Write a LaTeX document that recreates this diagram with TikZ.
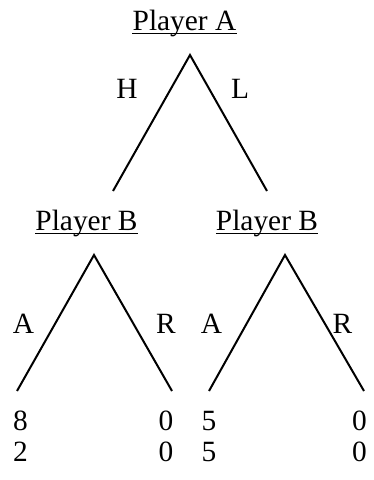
\documentclass[tikz,border=0pt]{standalone}
\usepackage{fontspec}
\setmainfont{Liberation Serif}
\begin{document}
\begin{tikzpicture}[x=1pt,y=-1pt,
  lbl/.style={inner sep=0pt,anchor=base,font=\fontsize{29.4}{33}\selectfont},
  branch/.style={line width=2pt},
  uline/.style={line width=1.8pt}]
\useasboundingbox[fill=white] (0,0) rectangle (373,480);
% player labels
\node[lbl] (pa) at (184.5,30) {Player A};
\node[lbl] (pb1) at (86.5,230) {Player B};
\node[lbl] (pb2) at (267,230) {Player B};
\foreach \n in {pa,pb1,pb2}
  \draw[uline] ([yshift=-3.5pt]\n.base west) -- ([yshift=-3.5pt]\n.base east);
% tree points
\coordinate (r) at (190,55);
\coordinate (rl) at (113,191);
\coordinate (rr) at (267,191);
\coordinate (b1) at (94,255);
\coordinate (b1l) at (17,391);
\coordinate (b1r) at (172,391);
\coordinate (b2) at (285,255);
\coordinate (b2l) at (209,391);
\coordinate (b2r) at (364,391);
\draw[branch] (rl) -- (r) -- (rr);
\draw[branch] (b1l) -- (b1) -- (b1r);
\draw[branch] (b2l) -- (b2) -- (b2r);
% action labels
\node[lbl] (h) at (127,98) {H};
\node[lbl] (l) at (240,98) {L};
\node[lbl] (a1) at (23.5,333) {A};
\node[lbl] (r1) at (166,333) {R};
\node[lbl] (a2) at (211.5,333) {A};
\node[lbl] (r2) at (342.5,333) {R};
% payoffs
\node[lbl] (p1a) at (20.5,430) {8};
\node[lbl] (p1b) at (20.5,461) {2};
\node[lbl] (p2a) at (166,430) {0};
\node[lbl] (p2b) at (166,461) {0};
\node[lbl] (p3a) at (209,430) {5};
\node[lbl] (p3b) at (209,461) {5};
\node[lbl] (p4a) at (359.5,430) {0};
\node[lbl] (p4b) at (359.5,461) {0};
\end{tikzpicture}
\end{document}
